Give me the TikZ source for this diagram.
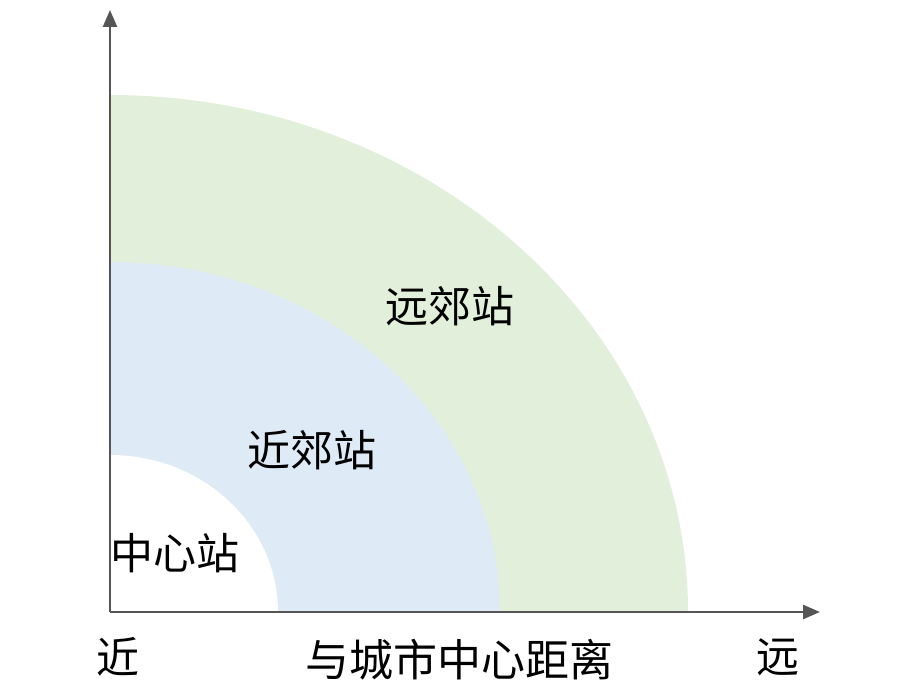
\documentclass[tikz,border=0pt]{standalone}
\usepackage{fontspec}
\newfontfamily\cjk{Noto Sans CJK SC}
\usetikzlibrary{arrows.meta}
\definecolor{ringgreen}{HTML}{E2EFDA}
\definecolor{ringblue}{HTML}{DEEBF7}
\definecolor{axisgray}{HTML}{555555}
\begin{document}
\begin{tikzpicture}[x=1pt,y=-1pt,
  lbl/.style={font=\cjk\fontsize{43}{45}\selectfont, text=black, inner sep=0pt},
  axisline/.style={draw=axisgray, line width=2.5pt, -{Triangle[length=17pt,width=14pt]}}]
\useasboundingbox (0,0) rectangle (900,693);
\coordinate (o) at (110,612);
\fill[ringgreen] (o) -- (688,612) arc[start angle=0, end angle=90, x radius=578, y radius=-517] -- cycle;
\fill[ringblue] (o) -- (500,612) arc[start angle=0, end angle=90, x radius=390, y radius=-350] -- cycle;
\fill[white] (o) -- (278,612) arc[start angle=0, end angle=90, x radius=168, y radius=-157] -- cycle;
\coordinate (ytip) at (110,10);
\coordinate (xtip) at (820,612);
\draw[axisline] (o) -- (ytip);
\draw[axisline] (o) -- (xtip);
\node[lbl] (far) at (450,306) {远郊站};
\node[lbl] (near) at (312,450) {近郊站};
\node[lbl] (center) at (175,553) {中心站};
\node[lbl] (jin) at (118,657) {近};
\node[lbl] (yuan) at (778,657) {远};
\node[lbl, font=\cjk\fontsize{44}{46}\selectfont] (title) at (459,660) {与城市中心距离};
\end{tikzpicture}
\end{document}
